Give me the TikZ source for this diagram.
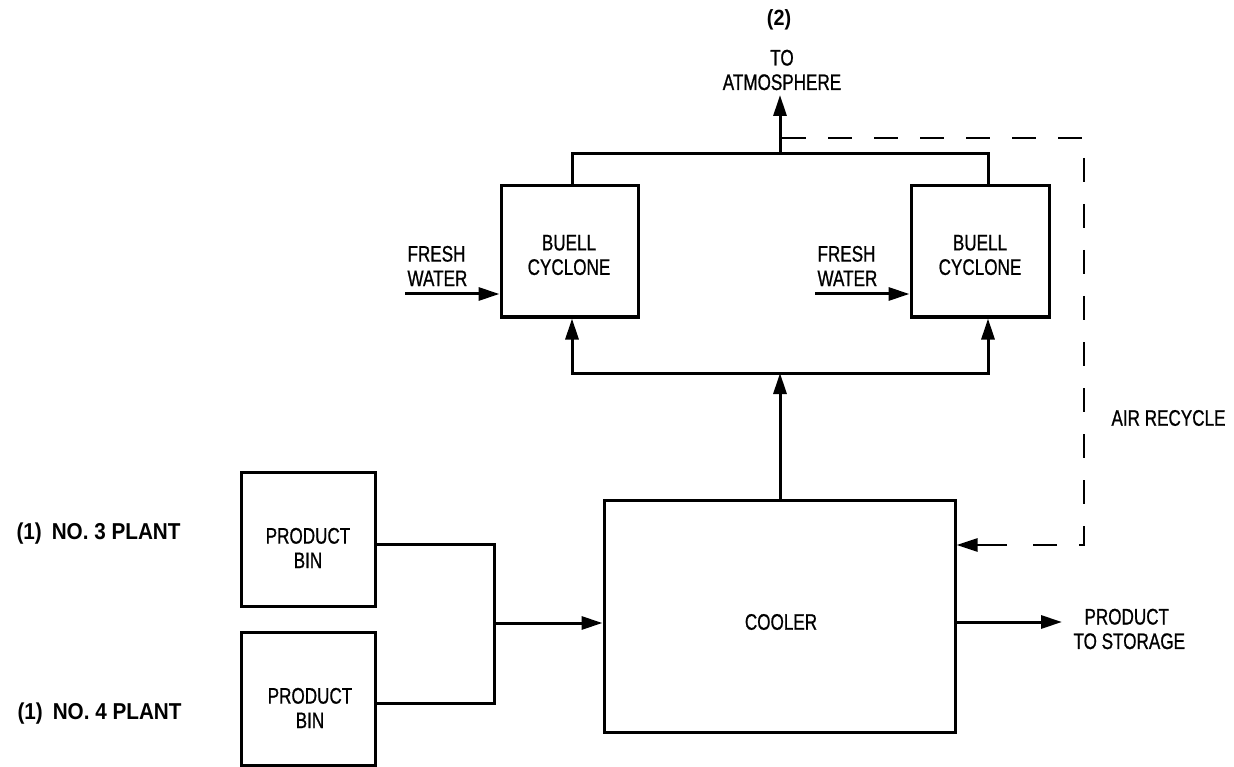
\documentclass[tikz,border=0pt]{standalone}
\usepackage{fontspec}
\setmainfont{Liberation Sans}
\newfontfamily\condfont[FakeStretch=0.76,FakeBold=0.8]{Liberation Sans}
\newfontfamily\plantfont[FakeStretch=0.9]{Liberation Sans}
\usetikzlibrary{arrows.meta,calc}
\begin{document}
\begin{tikzpicture}[x=1pt,y=-1pt,
  line width=3pt,
  box/.style={draw, line width=3pt, inner sep=0pt},
  lbl/.style={font=\condfont\fontsize{22.5}{24.5}\selectfont, align=center, inner sep=0pt},
  lbll/.style={font=\condfont\fontsize{22.5}{24.5}\selectfont, align=left, inner sep=0pt},
  plant/.style={font=\plantfont\fontsize{23}{24}\selectfont\bfseries, inner sep=0pt, anchor=west},
  arr/.style={-{Triangle[length=21pt,width=13pt]}},
  recyc/.style={dash pattern=on 24pt off 22pt, line width=2.8pt}]
\useasboundingbox (0,0) rectangle (1234,767);
% boxes
\node[box, minimum width=137pt, minimum height=131pt] (cycL) at (569.5,251.5) {};
\node[box, minimum width=138pt, minimum height=131pt] (cycR) at (980,251.5) {};
\node[box, minimum width=134pt, minimum height=134pt] (bin1) at (308,539) {};
\node[box, minimum width=134pt, minimum height=133pt] (bin2) at (308,698.5) {};
\node[box, minimum width=351pt, minimum height=232pt] (cooler) at (779.5,616) {};
% box texts
\node[lbl] (tcycL) at (569,255) {BUELL\\CYCLONE};
\node[lbl] (tcycR) at (980,255) {BUELL\\CYCLONE};
\node[lbl] (tbin1) at (308,548) {PRODUCT\\BIN};
\node[lbl] (tbin2) at (310,708) {PRODUCT\\BIN};
\node[lbl] (tcool) at (781,622) {COOLER};
% outer labels
\node[lbl, font=\plantfont\fontsize{22}{24}\selectfont\bfseries] (two) at (779,20) {(2)};
\node[lbl] (atm) at (782,70) {TO\\ATMOSPHERE};
\node[lbll, anchor=west] (fwL) at (406,266) {FRESH\\WATER};
\node[lbll, anchor=west] (fwR) at (816,266) {FRESH\\WATER};
\node[lbl, anchor=west] (air) at (1110,418) {AIR RECYCLE};
\node[lbll, anchor=west] (store) at (1072,629) {\hspace*{11pt}PRODUCT\\TO STORAGE};
\node[plant] (p3) at (15,534) {(1)\hspace{10pt}NO. 3 PLANT};
\node[plant] (p4) at (16,714) {(1)\hspace{10pt}NO. 4 PLANT};
% coordinates
\coordinate (tbL) at (572,154);
\coordinate (tbR) at (988,154);
\coordinate (tbM) at (780,154);
\coordinate (atmtip) at (780,95);
\coordinate (bbL) at (572,373);
\coordinate (bbR) at (988,373);
\coordinate (bbM) at (780,373);
\coordinate (j1) at (494,544);
\coordinate (j2) at (494,703);
\coordinate (jm) at (494,623);
\coordinate (fwLs) at (405,294);
\coordinate (fwRs) at (815,294);
\coordinate (outend) at (1062,622);
\coordinate (d0) at (782,138);
\coordinate (d1) at (1084,138);
\coordinate (d2) at (1084,545);
\coordinate (d3) at (1030,545);
\coordinate (d4) at (1007,545);
% connectors top
\draw (cycL.north -| tbL) -- (tbL) -- (tbR) -- (cycR.north -| tbR);
\draw[arr] (tbM) -- (atmtip);
% bottom bus
\draw[arr] (bbM) -- (bbL) -- (cycL.south -| bbL);
\draw[arr] (bbM) -- (bbR) -- (cycR.south -| bbR);
\draw[arr] (cooler.north -| bbM) -- (bbM);
% fresh water
\draw[arr] (fwLs) -- (fwLs -| cycL.west);
\draw[arr] (fwRs) -- (fwRs -| cycR.west);
% bins
\draw (bin1.east |- j1) -- (j1) -- (j2) -- (bin2.east |- j2);
\draw[arr] (jm) -- (jm -| cooler.west);
% output
\draw[arr] (cooler.east |- outend) -- (outend);
% air recycle
\draw[recyc] (d0) -- (d1) -- (d2) -- (d3);
\draw[arr, line width=2.8pt] (d4) -- (d4 -| cooler.east);
\end{tikzpicture}
\end{document}
